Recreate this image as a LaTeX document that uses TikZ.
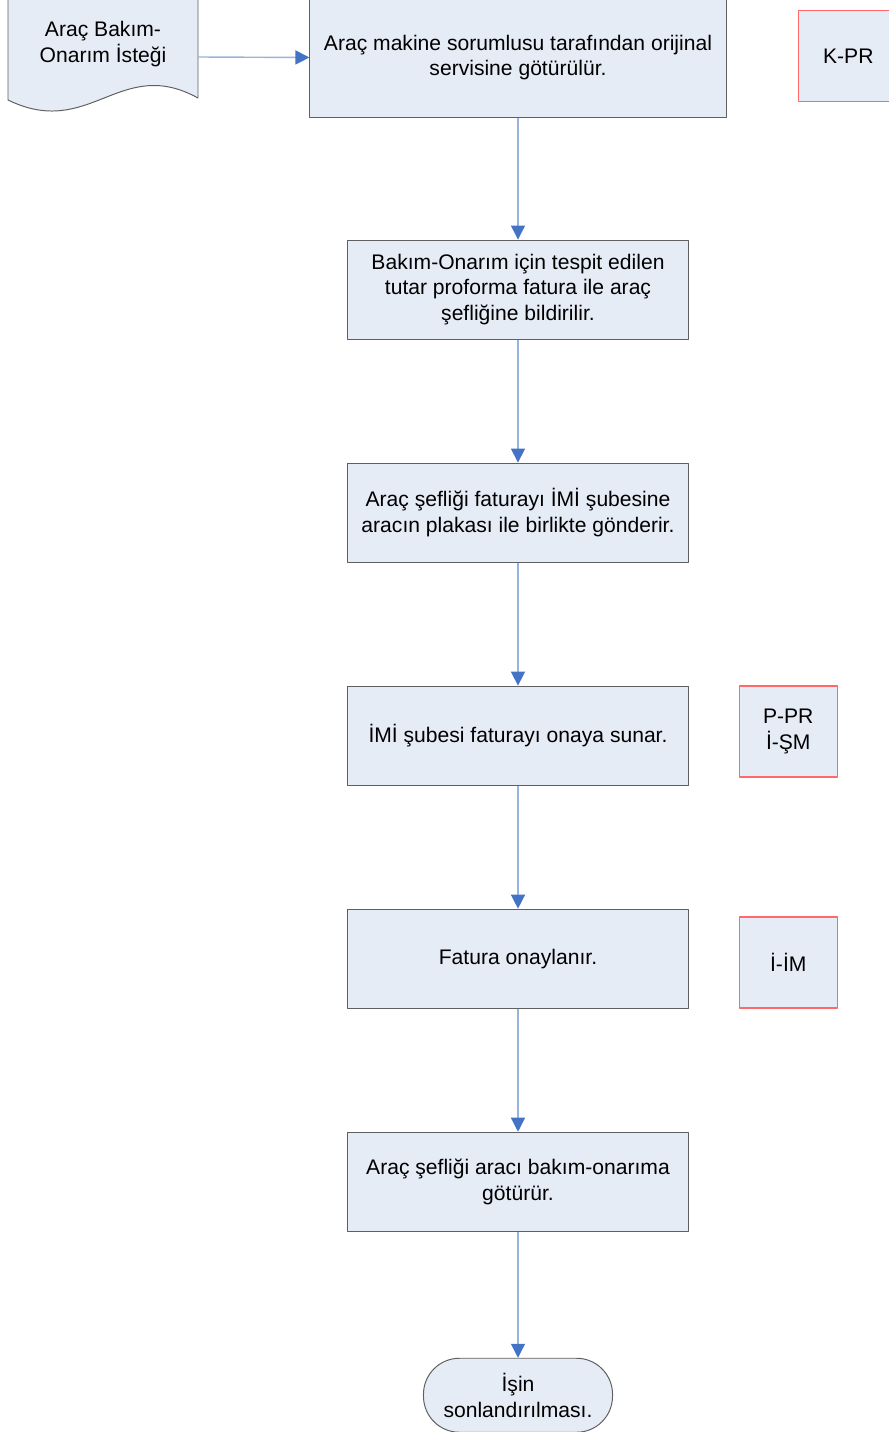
\documentclass[tikz,border=0pt]{standalone}
\usepackage{fontspec}
\setmainfont{Liberation Sans}
\usetikzlibrary{arrows.meta,positioning}
\definecolor{kutu}{RGB}{230,236,246}
\definecolor{cerceve}{RGB}{95,95,95}
\definecolor{okcizgi}{RGB}{150,180,222}
\definecolor{okucu}{RGB}{68,114,196}
\definecolor{kirmizi}{RGB}{255,105,105}
\tikzset{
  adim/.style={draw=cerceve, fill=kutu, line width=0.7pt, minimum width=8.5cm,
    minimum height=2.475cm, align=center, inner sep=2pt},
  kod/.style={draw=kirmizi, fill=kutu, line width=1pt, minimum width=2.45cm,
    minimum height=2.275cm, align=center},
  ok/.style={draw=okcizgi, line width=1pt,
    -{Triangle[length=0.35cm,width=0.35cm,fill=okucu,color=okucu]}}
}
\begin{document}
\begin{tikzpicture}[x=0.025cm, y=-0.025cm, font=\fontsize{15}{18.4}\selectfont,
  node distance=3.075cm, line join=round]
\useasboundingbox (0,0) rectangle (888,1432);
\path
(198,57) coordinate (istekR)
;
%\draw[gray!50] (0,0) grid[step=100] (888,1432);
\fill[kutu] (8,-5) -- (8,100) .. controls (90,140) and (120,55) .. (198,98) -- (198,-5) -- cycle;
\draw[cerceve, line width=0.7pt] (8,-5) -- (8,100) .. controls (90,140) and (120,55) .. (198,98) -- (198,-5);
\node[align=center] (istek) at (103,44) {Araç Bakım-\\Onarım İsteği};
\node[adim, minimum width=10.4cm, minimum height=2.975cm] (servis) at (518,57.5)
  {Araç makine sorumlusu tarafından orijinal\\servisine götürülür.};
\node[adim, below=3.05cm of servis] (tutar)
  {Bakım-Onarım için tespit edilen\\tutar proforma fatura ile araç\\şefliğine bildirilir.};
\node[adim, below=of tutar] (gonder)
  {Araç şefliği faturayı İMİ şubesine\\aracın plakası ile birlikte gönderir.};
\node[adim, below=of gonder] (sunar) {İMİ şubesi faturayı onaya sunar.};
\node[adim, below=of sunar] (onay) {Fatura onaylanır.};
\node[adim, below=of onay] (bakim) {Araç şefliği aracı bakım-onarıma\\götürür.};
\node[draw=cerceve, fill=kutu, line width=0.7pt, rounded corners=0.9cm,
  minimum width=4.725cm, minimum height=1.85cm, align=center, below=3.15cm of bakim] (son)
  {İşin\\sonlandırılması.};
\node[kod, right=1.775cm of servis, yshift=0.04cm, minimum width=2.5cm] (kpr) {K-PR};
\node[kod, right=1.25cm of sunar, yshift=0.1cm] (ppr) {P-PR\\İ-ŞM};
\node[kod, right=1.25cm of onay, yshift=-0.1cm] (iim) {İ-İM};
\draw[ok] (istekR) -- (servis.west);
\foreach \a/\b in {servis/tutar, tutar/gonder, gonder/sunar, sunar/onay, onay/bakim, bakim/son}
  \draw[ok] (\a.south) -- (\b.north);
\end{tikzpicture}
\end{document}
